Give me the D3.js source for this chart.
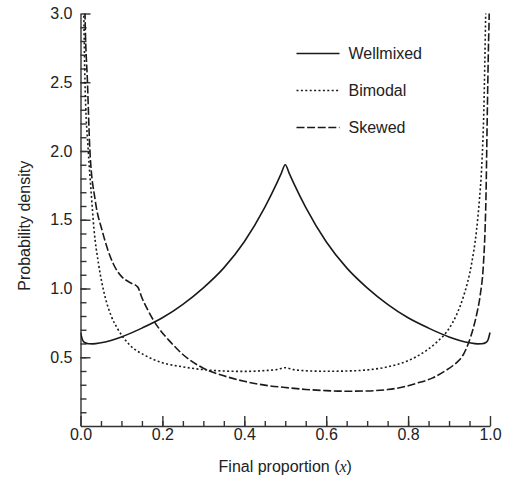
<!DOCTYPE html>
<html lang="en">
<head>
<meta charset="utf-8">
<title>Final proportion density</title>
<script src="https://d3js.org/d3.v7.min.js"></script>
<style type="text/css">
	body { margin: 0; background: #fff; }
	text { font-family: "Liberation Sans", Arial, Helvetica, sans-serif; fill: #222; }
	.axis path, .axis line { fill: none; stroke: #333; stroke-width: 1.4; }
	.axis text { font-size: 16px; fill: #222; }
	.curve { fill: none; stroke: #1a1a1a; stroke-width: 1.6; }
</style>
</head>
<body>
<div id="chart"></div>
<script type="text/javascript">
// tick labels
var xTicks = [0.0, 0.2, 0.4, 0.6, 0.8, 1.0];
var yTicks = [0.5, 1.0, 1.5, 2.0, 2.5, 3.0];

// series: [final proportion x, probability density]
var wellmixed = [
	[0.000, 0.680], [0.005, 0.625], [0.010, 0.607], [0.020, 0.598], [0.030, 0.597],
	[0.050, 0.605], [0.100, 0.648], [0.150, 0.712], [0.200, 0.787], [0.250, 0.885],
	[0.300, 1.005], [0.350, 1.150], [0.400, 1.340], [0.450, 1.590], [0.480, 1.770],
	[0.490, 1.835], [0.500, 1.900], [0.510, 1.835], [0.520, 1.770], [0.550, 1.590],
	[0.600, 1.340], [0.650, 1.150], [0.700, 1.005], [0.750, 0.885], [0.800, 0.787],
	[0.850, 0.712], [0.900, 0.648], [0.950, 0.605], [0.970, 0.597], [0.980, 0.598],
	[0.990, 0.607], [0.995, 0.625], [1.000, 0.680]
];
var bimodal = [
	[0.006, 3.40], [0.008, 3.00], [0.011, 2.50], [0.019, 2.00], [0.026, 1.70],
	[0.033, 1.43], [0.044, 1.18], [0.060, 0.94], [0.075, 0.80], [0.092, 0.70],
	[0.120, 0.59], [0.160, 0.51], [0.200, 0.46], [0.250, 0.43], [0.300, 0.410],
	[0.350, 0.400], [0.400, 0.397], [0.450, 0.403], [0.480, 0.411], [0.500, 0.424],
	[0.520, 0.410], [0.550, 0.402], [0.600, 0.398], [0.650, 0.400], [0.700, 0.408],
	[0.750, 0.430], [0.800, 0.475], [0.845, 0.550], [0.870, 0.610], [0.898, 0.70],
	[0.920, 0.82], [0.935, 0.94], [0.955, 1.18], [0.967, 1.42], [0.974, 1.64],
	[0.980, 1.90], [0.985, 2.30], [0.9895, 3.00], [0.992, 3.40]
];
var skewed = [
	[0.009, 3.40], [0.011, 3.00], [0.017, 2.50], [0.023, 2.00], [0.036, 1.64],
	[0.053, 1.42], [0.080, 1.18], [0.100, 1.088], [0.120, 1.045], [0.140, 1.010],
	[0.149, 0.94], [0.165, 0.84], [0.178, 0.77], [0.194, 0.70], [0.220, 0.61],
	[0.250, 0.52], [0.300, 0.42], [0.350, 0.365], [0.400, 0.325], [0.450, 0.297],
	[0.500, 0.280], [0.550, 0.266], [0.600, 0.257], [0.650, 0.253], [0.700, 0.255],
	[0.750, 0.265], [0.790, 0.285], [0.820, 0.310], [0.860, 0.350], [0.890, 0.400],
	[0.910, 0.440], [0.925, 0.480], [0.935, 0.520], [0.947, 0.600], [0.959, 0.710],
	[0.968, 0.820], [0.976, 0.950], [0.984, 1.18], [0.988, 1.43], [0.990, 1.64],
	[0.993, 2.20], [0.9965, 2.80], [0.998, 3.00], [0.999, 3.40]
];
var legendNames = ["Wellmixed", "Bimodal", "Skewed"];
var dashes = [null, "2,2.4", "8,2.6"];

var w = 509, h = 481;
var margin = {top: 13.5, right: 19, bottom: 55, left: 80.5},
	width = w - margin.left - margin.right,
	height = h - margin.top - margin.bottom;

var svg = d3.select("#chart").append("svg")
	.attr("width", w)
	.attr("height", h)
	.append("g")
	.attr("transform", "translate(" + margin.left + "," + margin.top + ")");

var xScale = d3.scaleLinear().domain([0, 1]).range([0, width]);
var yScale = d3.scaleLinear().domain([0, 3]).range([height, 0]);

svg.append("clipPath").attr("id", "plotclip")
	.append("rect").attr("x", 0).attr("y", 0).attr("width", width + 2).attr("height", height);

// minor ticks
svg.append("g").attr("class", "axis")
	.call(d3.axisLeft(yScale).tickValues(d3.range(0.1, 3.0, 0.1)).tickSize(-6).tickFormat(""))
	.select(".domain").remove();
svg.append("g").attr("class", "axis")
	.attr("transform", "translate(0," + height + ")")
	.call(d3.axisBottom(xScale).tickValues(d3.range(0.05, 1.0, 0.05)).tickSize(-5).tickFormat(""))
	.select(".domain").remove();

// major ticks + labels
svg.append("g").attr("class", "axis")
	.call(d3.axisLeft(yScale).tickValues(yTicks).tickSizeInner(-10).tickSizeOuter(0)
		.tickPadding(8).tickFormat(d3.format(".1f")));
svg.append("g").attr("class", "axis")
	.attr("transform", "translate(0," + height + ")")
	.call(d3.axisBottom(xScale).tickValues(xTicks).tickSizeInner(-10).tickSizeOuter(0)
		.tickPadding(3).tickFormat(d3.format(".1f")));

var line = d3.line()
	.x(function(d) { return xScale(d[0]); })
	.y(function(d) { return yScale(d[1]); })
	.curve(d3.curveMonotoneX);

var series = [wellmixed, bimodal, skewed];
svg.append("g").attr("clip-path", "url(#plotclip)")
	.selectAll("path")
	.data(series)
	.enter().append("path")
	.attr("class", "curve")
	.attr("d", line)
	.attr("stroke-dasharray", function(d, i) { return dashes[i]; });

// legend
var legend = svg.append("g").attr("transform", "translate(216,40)");
var rows = legend.selectAll("g").data(legendNames).enter().append("g")
	.attr("transform", function(d, i) { return "translate(0," + (i * 37) + ")"; });
rows.append("line")
	.attr("class", "curve")
	.attr("x1", 0).attr("x2", 43).attr("y1", 0).attr("y2", 0)
	.attr("stroke-dasharray", function(d, i) { return dashes[i]; });
rows.append("text")
	.attr("x", 52).attr("y", 0).attr("dy", "0.35em")
	.style("font-size", "16px")
	.text(function(d) { return d; });

// axis titles
var xt = svg.append("text")
	.attr("x", width / 2)
	.attr("y", height + 46)
	.attr("text-anchor", "middle")
	.style("font-size", "16px")
	.text("Final proportion (");
xt.append("tspan")
	.style("font-family", "'Liberation Serif', 'DejaVu Serif', serif")
	.style("font-style", "italic")
	.text("x");
xt.append("tspan").text(")");

svg.append("text")
	.attr("transform", "rotate(-90)")
	.attr("x", -(height / 2) - 6)
	.attr("y", -51)
	.attr("text-anchor", "middle")
	.style("font-size", "16px")
	.text("Probability density");
</script>
</body>
</html>
